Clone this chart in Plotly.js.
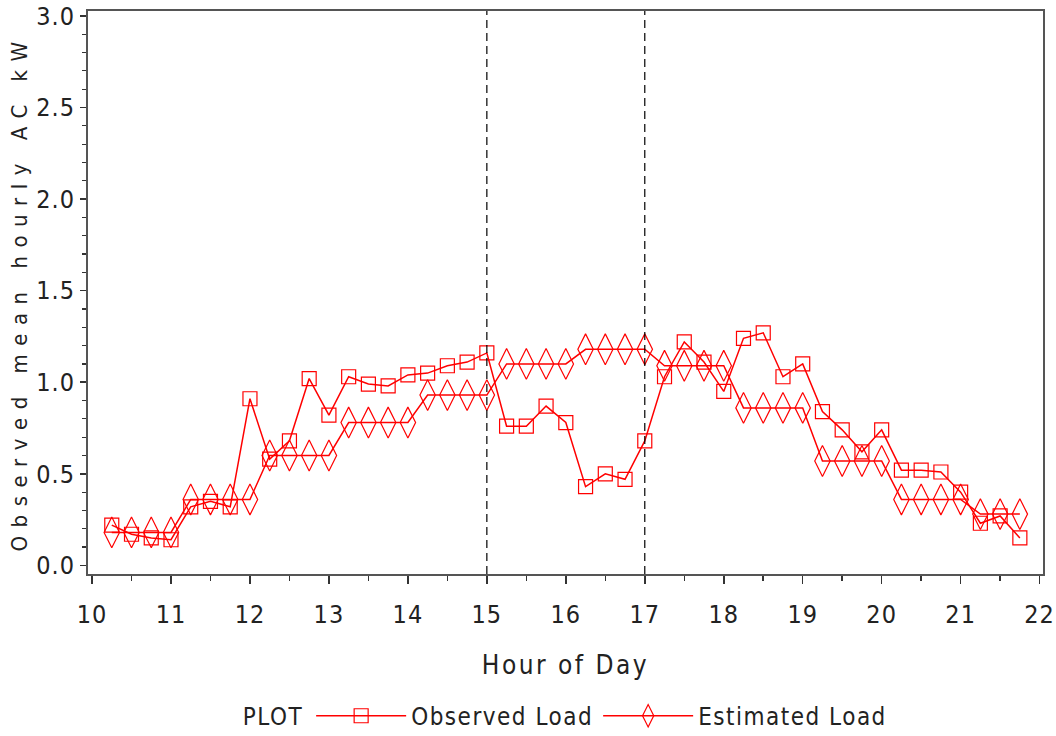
<!DOCTYPE html>
<html>
<head>
<meta charset="utf-8">
<script src="https://cdn.plot.ly/plotly-3.0.1.min.js"></script>
<style>
  html, body { margin: 0; padding: 0; background: #fff; }
  #chart { width: 1056px; height: 736px; }
  .xtitle { letter-spacing: 2.5px; }
  .ytitle { letter-spacing: 8.5px; }
  .legendtext, .legendtitletext { letter-spacing: 1.5px; }
  .xtick text, .ytick text { letter-spacing: 1px; }
</style>
</head>
<body>
<div id="chart"></div>
<script>
const hours = [10.25,10.5,10.75,11,11.25,11.5,11.75,12,12.25,12.5,12.75,13,
  13.25,13.5,13.75,14,14.25,14.5,14.75,15,15.25,15.5,15.75,16,
  16.25,16.5,16.75,17,17.25,17.5,17.75,18,18.25,18.5,18.75,19,
  19.25,19.5,19.75,20,20.25,20.5,20.75,21,21.25,21.5,21.75];

const observedLoad = [0.22,0.17,0.15,0.14,0.32,0.35,0.32,0.91,0.58,0.68,1.02,0.82,
  1.03,0.99,0.98,1.04,1.05,1.09,1.11,1.16,0.76,0.76,0.87,0.78,
  0.43,0.50,0.47,0.68,1.03,1.22,1.11,0.95,1.24,1.27,1.03,1.10,
  0.84,0.74,0.62,0.74,0.52,0.52,0.51,0.40,0.23,0.27,0.15];

const estimatedLoad = [0.18,0.18,0.18,0.18,0.36,0.36,0.36,0.36,0.60,0.60,0.60,0.60,
  0.78,0.78,0.78,0.78,0.93,0.93,0.93,0.93,1.10,1.10,1.10,1.10,
  1.18,1.18,1.18,1.18,1.09,1.09,1.09,1.09,0.86,0.86,0.86,0.86,
  0.57,0.57,0.57,0.57,0.36,0.36,0.36,0.36,0.28,0.28,0.28];

const refHours = [15, 17];
const xTicks = [10,11,12,13,14,15,16,17,18,19,20,21,22];
const yTicks = [0.0,0.5,1.0,1.5,2.0,2.5,3.0];
const yTickLabels = ["0.0","0.5","1.0","1.5","2.0","2.5","3.0"];

const FONT = '"DejaVu Sans Condensed", "DejaVu Sans", sans-serif';
const TXT = '#222222';
const RED = '#ff0000';

const traces = [
  {
    x: hours, y: observedLoad, name: 'Observed Load', type: 'scatter', mode: 'lines+markers',
    line: {color: RED, width: 1.5},
    marker: {symbol: 'square-open', size: 14, color: RED, line: {color: RED, width: 1.2}}
  },
  {
    x: hours, y: estimatedLoad, name: 'Estimated Load', type: 'scatter', mode: 'lines+markers',
    line: {color: RED, width: 1.5},
    marker: {symbol: 'diamond-tall-open', size: 22, color: RED, line: {color: RED, width: 1.2}}
  }
];

const shapes = refHours.map(h => ({
  type: 'line', xref: 'x', yref: 'paper', x0: h, x1: h, y0: 0, y1: 1,
  line: {color: '#000', width: 1.2, dash: '8px,5px'}
}));

const layout = {
  width: 1056, height: 736,
  paper_bgcolor: '#fff', plot_bgcolor: '#fff',
  margin: {l: 88, r: 13, t: 11, b: 162},
  font: {family: FONT, color: TXT, size: 24},
  showlegend: true,
  legend: {
    orientation: 'h', xref: 'container', x: 0.228, xanchor: 'left',
    yref: 'container', y: 0.027, yanchor: 'middle',
    font: {family: FONT, size: 24, color: TXT},
    title: {text: 'PLOT', side: 'left', font: {family: FONT, size: 24, color: TXT}},
    itemwidth: 90, bgcolor: 'rgba(0,0,0,0)'
  },
  xaxis: {
    range: [9.949, 22.043], tickvals: xTicks, ticktext: xTicks.map(String),
    showgrid: false, zeroline: false,
    showline: true, linecolor: '#555', linewidth: 2, mirror: true,
    ticks: 'outside', ticklen: 8, tickwidth: 1.5, tickcolor: '#333',
    ticklabelstandoff: 9, ticklabeloverflow: 'allow',
    minor: {dtick: 0.5, tick0: 10, ticks: 'outside', ticklen: 5, tickwidth: 1.5, tickcolor: '#333'},
    tickfont: {family: FONT, size: 25, color: TXT},
    title: {text: 'Hour of Day', font: {family: FONT, size: 26, color: TXT}, standoff: 28},
    automargin: false
  },
  yaxis: {
    range: [-0.047, 3.027], tickvals: yTicks, ticktext: yTickLabels,
    showgrid: false, zeroline: false,
    showline: true, linecolor: '#555', linewidth: 2, mirror: true,
    ticks: 'outside', ticklen: 6, tickwidth: 1.5, tickcolor: '#333',
    ticklabeloverflow: 'allow',
    minor: {dtick: 0.1, tick0: 0, ticks: 'outside', ticklen: 4, tickwidth: 1.2, tickcolor: '#333'},
    tickfont: {family: FONT, size: 25, color: TXT},
    title: {text: 'Observed mean hourly AC kW', font: {family: FONT, size: 22, color: TXT}, standoff: 3},
    automargin: false
  },
  shapes: shapes
};

Plotly.newPlot('chart', traces, layout, {displayModeBar: false, staticPlot: true});
</script>
</body>
</html>
